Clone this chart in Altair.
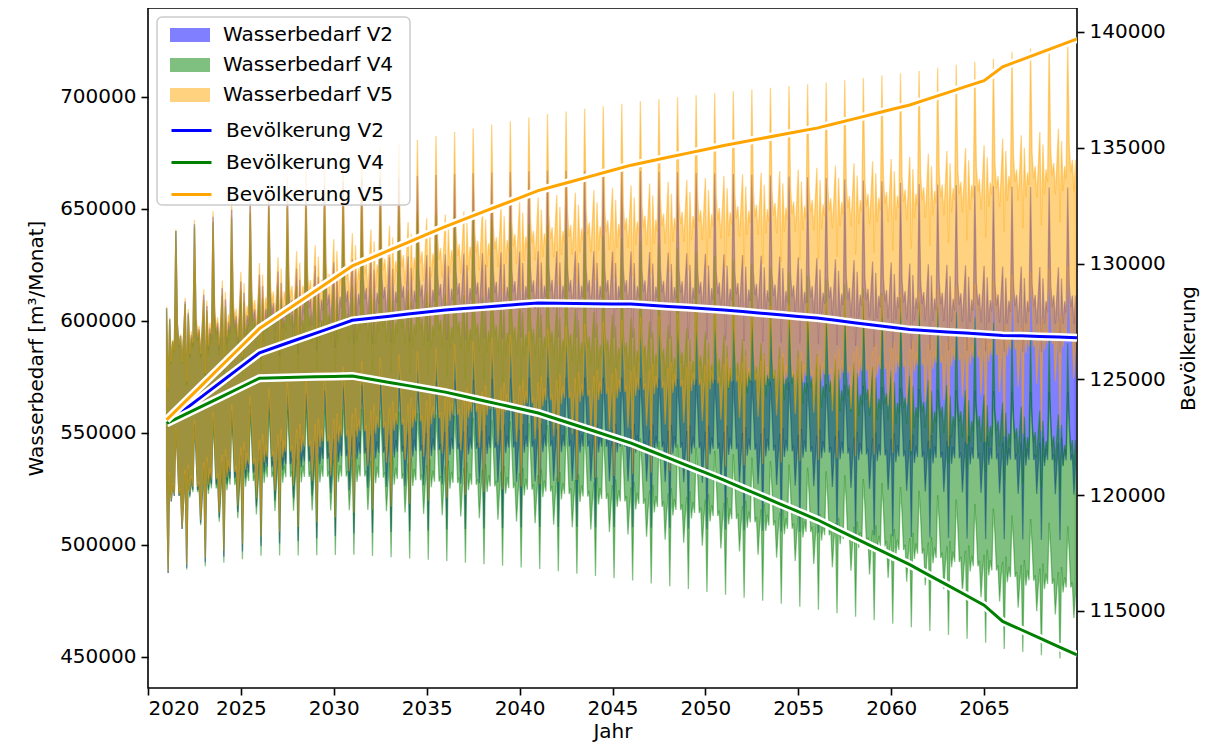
import altair as alt
import pandas as pd

# ---------------- data ----------------
YEARS = list(range(2021, 2071))

POP_V2 = [123100, 123710, 124320, 124930, 125540, 126150, 126430, 126710, 126990, 127270,
          127550, 127640, 127730, 127820, 127910, 128000, 128060, 128120, 128180, 128240,
          128300, 128290, 128280, 128270, 128260, 128250, 128200, 128150, 128100, 128050,
          128000, 127930, 127860, 127790, 127720, 127650, 127550, 127450, 127350, 127250,
          127150, 127100, 127050, 127000, 126950, 126900, 126880, 126850, 126830, 126800]

POP_V4 = [123100, 123490, 123880, 124270, 124660, 125050, 125070, 125090, 125110, 125130,
          125150, 125010, 124870, 124730, 124590, 124450, 124270, 124090, 123910, 123730,
          123550, 123290, 123030, 122770, 122510, 122250, 121930, 121610, 121290, 120970,
          120650, 120310, 119970, 119630, 119290, 118950, 118560, 118170, 117780, 117390,
          117000, 116560, 116130, 115690, 115250, 114550, 114190, 113830, 113460, 113100]

POP_V5 = [123250, 124040, 124830, 125620, 126410, 127200, 127740, 128280, 128820, 129360,
          129900, 130240, 130580, 130920, 131260, 131600, 131910, 132220, 132530, 132840,
          133150, 133370, 133590, 133810, 134030, 134250, 134420, 134590, 134760, 134930,
          135100, 135250, 135400, 135550, 135700, 135850, 136050, 136250, 136450, 136650,
          136850, 137110, 137370, 137640, 137900, 138500, 138800, 139100, 139400, 139700]

# monthly water demand per inhabitant [m3 / person / month], Jan..Dec:
# upper and lower edge of the monthly band
UPPER_FACTOR = [4.92, 4.62, 4.88, 4.72, 4.80, 4.76, 5.20, 4.86, 4.78, 4.82, 4.72, 4.82]
LOWER_FACTOR = [4.30, 3.96, 4.32, 4.22, 4.28, 4.24, 4.48, 4.38, 4.24, 4.26, 4.12, 4.22]

AREA_NAMES = ["Wasserbedarf V2", "Wasserbedarf V4", "Wasserbedarf V5"]
LINE_NAMES = ["Bevölkerung V2", "Bevölkerung V4", "Bevölkerung V5"]
COLORS = ["blue", "green", "orange"]

X_TICKS = [2020, 2025, 2030, 2035, 2040, 2045, 2050, 2055, 2060, 2065]
Y_TICKS = [450000, 500000, 550000, 600000, 650000, 700000]
POP_TICKS = [115000, 120000, 125000, 130000, 135000, 140000]

# ---------------- tables ----------------
pops_all = [POP_V2, POP_V4, POP_V5]

area_rows = []
for name, pops in zip(AREA_NAMES, pops_all):
    for i, year in enumerate(YEARS[:-1]):
        for m in range(12):
            area_rows.append({"series": name, "t": year + m / 12.0,
                              "hi": pops[i] * UPPER_FACTOR[m],
                              "lo": pops[i] * LOWER_FACTOR[m]})
area_df = pd.DataFrame(area_rows)

line_rows = []
for name, pops in zip(LINE_NAMES, pops_all):
    for year, p in zip(YEARS, pops):
        line_rows.append({"pseries": name, "t": year, "pop": p})
line_df = pd.DataFrame(line_rows)

FONT = "DejaVu Sans"

x_enc = alt.X("t:Q",
              scale=alt.Scale(domain=[2020, 2070], nice=False, zero=False),
              axis=alt.Axis(values=X_TICKS, format="d", title="Jahr",
                            labelPadding=3, titlePadding=3))

y_area = alt.Y("hi:Q",
               scale=alt.Scale(domain=[436160, 739700], nice=False, zero=False),
               axis=alt.Axis(values=Y_TICKS, format="d", orient="left",
                             title="Wasserbedarf [m³/Monat]", titlePadding=13))

y_pop = alt.Y("pop:Q",
              scale=alt.Scale(domain=[111675, 141036], nice=False, zero=False),
              axis=alt.Axis(values=POP_TICKS, format="d", orient="right",
                            title="Bevölkerung", titlePadding=33, titleAngle=270))

fill_scale = alt.Scale(domain=AREA_NAMES, range=COLORS)
stroke_scale = alt.Scale(domain=LINE_NAMES, range=COLORS)

fill_legend = alt.Legend(orient="none", legendX=32, legendY=17, title=None,
                         symbolType="M-2,-0.7L2,-0.7L2,0.7L-2,0.7Z",
                         symbolSize=400, symbolOpacity=0.5, symbolStrokeWidth=0,
                         labelOffset=23, rowPadding=10, padding=0, labelLimit=400,
                         labelFont=FONT, labelFontSize=20, labelColor="black")

stroke_legend = alt.Legend(orient="none", legendX=32, legendY=111, title=None,
                           symbolType="M-2,0L2,0", symbolSize=400, symbolStrokeWidth=3,
                           labelOffset=23, rowPadding=10, padding=0, labelLimit=400,
                           labelFont=FONT, labelFontSize=20, labelColor="black")

area_layers = []
for name, color in zip(AREA_NAMES, COLORS):
    area_layers.append(
        alt.Chart(area_df[area_df["series"] == name])
        .mark_area(fillOpacity=0.5, stroke=color, strokeOpacity=0.45,
                   strokeWidth=1.3, interpolate="linear", clip=True)
        .encode(x=x_enc, y=y_area, y2=alt.Y2("lo:Q"),
                fill=alt.Fill("series:N", scale=fill_scale, legend=fill_legend))
    )
areas = alt.layer(*area_layers)

line_layers = []
for name in LINE_NAMES:
    sub = line_df[line_df["pseries"] == name]
    line_layers.append(
        alt.Chart(sub).mark_line(strokeWidth=8, clip=True)
        .encode(x=x_enc, y=y_pop, stroke=alt.value("white"))
    )
    line_layers.append(
        alt.Chart(sub).mark_line(strokeWidth=3, clip=True)
        .encode(x=x_enc, y=y_pop,
                stroke=alt.Stroke("pseries:N", scale=stroke_scale, legend=stroke_legend))
    )
lines = alt.layer(*line_layers)

frame = alt.Chart(pd.DataFrame({"k": [0]})).mark_rect(
    fill="white", fillOpacity=0.8, stroke="#cccccc", strokeWidth=1.5, cornerRadius=5
).encode(x=alt.value(9), x2=alt.value(262), y=alt.value(9), y2=alt.value(197))

chart = (
    alt.layer(areas, lines, frame)
    .resolve_scale(y="independent")
    .properties(width=929, height=680,
                autosize=alt.AutoSizeParams(type="none"),
                padding={"left": 140, "top": 0, "right": 128, "bottom": 54})
    .configure_view(stroke="black", strokeWidth=1.6)
    .configure_axis(domain=False, grid=False, tickColor="black", tickWidth=1.6,
                    tickSize=7, labelPadding=5, labelFont=FONT, labelFontSize=20,
                    labelColor="black", titleFont=FONT, titleFontSize=20,
                    titleFontWeight="normal", titleColor="black")
)

chart.save("out.html", embed_options={"renderer": "svg", "actions": False})
